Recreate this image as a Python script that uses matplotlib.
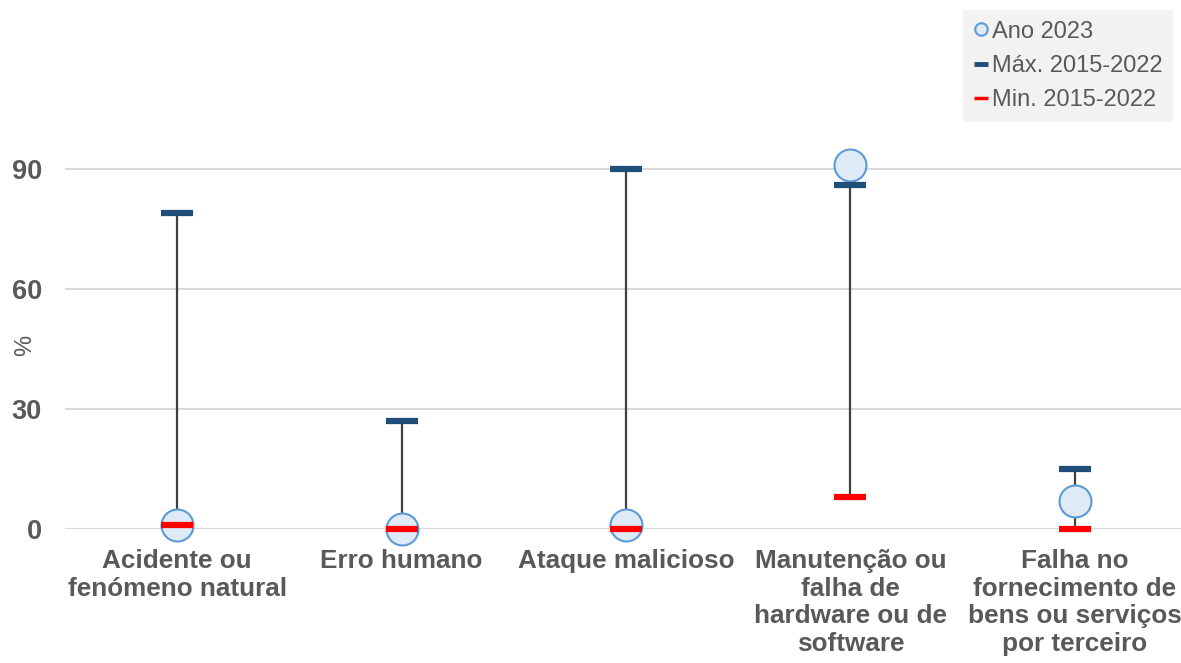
import matplotlib
matplotlib.use("Agg")
import matplotlib.pyplot as plt
from matplotlib.lines import Line2D

categories = ["Acidente ou\nfenómeno natural", "Erro humano", "Ataque malicioso",
              "Manutenção ou\nfalha de\nhardware ou de\nsoftware",
              "Falha no\nfornecimento de\nbens ou serviços\npor terceiro"]
ano_2023 = [1, 0, 1, 91, 7]
max_2015_2022 = [79, 27, 90, 86, 15]
min_2015_2022 = [1, 0, 0, 8, 0]
yticks = [0, 30, 60, 90]

plt.rcParams['font.family'] = ['Liberation Sans', 'DejaVu Sans']
W, H = 1181, 663
fig = plt.figure(figsize=(W / 100, H / 100), dpi=100)
left, right, bottom, top = 65, 1187, H - 528.7, H - 128.7
ax = fig.add_axes([left / W, bottom / H, (right - left) / W, (top - bottom) / H])

x = list(range(len(categories)))
ax.set_xlim(-0.5, len(categories) - 0.5)
ax.set_ylim(0, 100)

for xi, lo, hi in zip(x, min_2015_2022, max_2015_2022):
    ax.plot([xi, xi], [lo, hi], color='#404040', lw=1.6, zorder=2, clip_on=False)

ax.plot(x, ano_2023, ls='none', marker='o', markersize=23, markerfacecolor='#DEEBF7',
        markeredgecolor='#5B9BD5', markeredgewidth=1.5, zorder=3, clip_on=False)
ax.plot(x, max_2015_2022, ls='none', marker='_', markersize=22.5, markeredgewidth=4.5,
        color='#1F4E79', zorder=4, clip_on=False)
ax.plot(x, min_2015_2022, ls='none', marker='_', markersize=22.5, markeredgewidth=4.5,
        color='#FF0000', zorder=5, clip_on=False)

ax.set_yticks(yticks)
ax.set_yticklabels([str(v) for v in yticks], fontsize=19.5, fontweight='bold', color='#595959')
ax.set_xticks(x)
ax.set_xticklabels(categories, fontsize=18.8, fontweight='bold', color='#595959', linespacing=1.2)
ax.tick_params(axis='y', length=0, pad=16.5)
ax.tick_params(axis='x', length=0, pad=14.5)
ax.grid(axis='y', color='#D9D9D9', lw=1.5, zorder=0)
ax.set_axisbelow(True)
for s in ax.spines.values():
    s.set_visible(False)

fig.text(25 / W, 1 - 345 / H, '%', rotation=90, fontsize=17, color='#595959',
         ha='center', va='center')

handles = [
    Line2D([], [], ls='none', marker='o', markersize=9, markerfacecolor='#DEEBF7',
           markeredgecolor='#5B9BD5', markeredgewidth=1.5),
    Line2D([], [], ls='none', marker='_', markersize=10, markeredgewidth=3.5, color='#1F4E79'),
    Line2D([], [], ls='none', marker='_', markersize=10, markeredgewidth=2.5, color='#FF0000'),
]
leg = fig.legend(handles, ['Ano 2023', 'Máx. 2015-2022', 'Min. 2015-2022'],
                 loc='upper right', bbox_to_anchor=(1173 / W, 1 - 10 / H),
                 bbox_transform=fig.transFigure, borderaxespad=0, frameon=True,
                 fancybox=False, facecolor='#F2F2F2', edgecolor='none', framealpha=1,
                 fontsize=17, labelcolor='#595959', handlelength=0.6, handletextpad=0.15,
                 labelspacing=0.52, borderpad=0.45)

fig.savefig('out.png', dpi=100)
